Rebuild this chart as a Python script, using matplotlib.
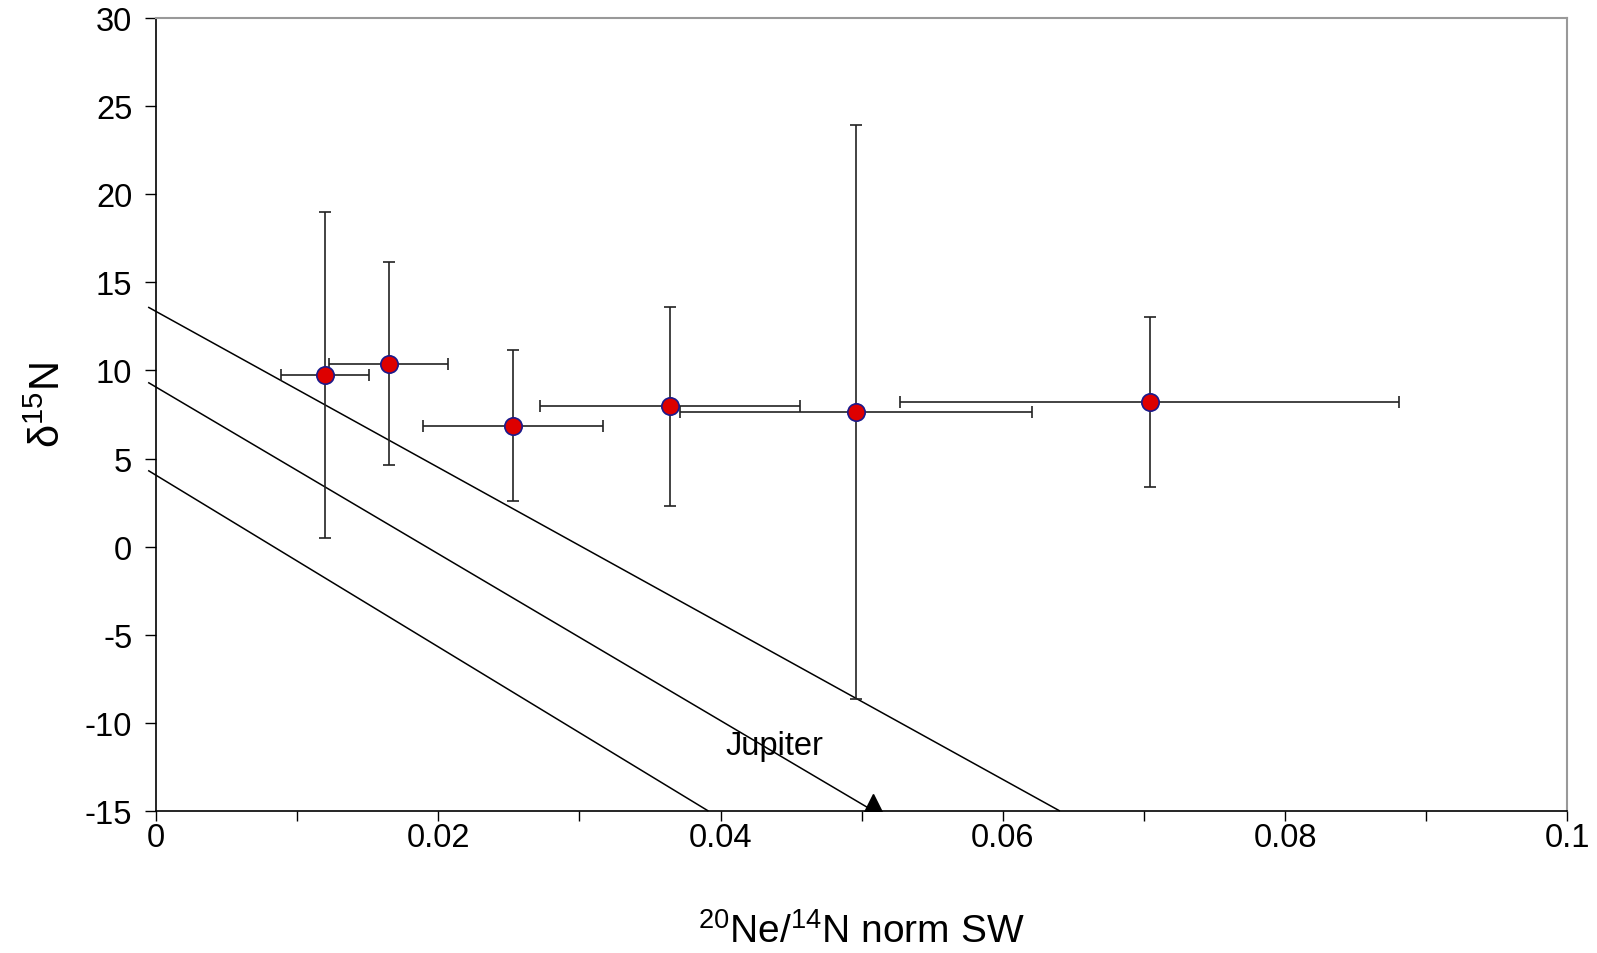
import numpy as np
import matplotlib
matplotlib.use("Agg")
import matplotlib.pyplot as plt

plt.rcParams['font.family'] = ['Liberation Sans', 'DejaVu Sans']
plt.rcParams['mathtext.fontset'] = 'custom'
plt.rcParams['mathtext.rm'] = 'Liberation Sans'
plt.rcParams['axes.unicode_minus'] = False

# measured points with symmetric errors
ne_n = [0.0120, 0.0165, 0.0253, 0.0364, 0.0496, 0.0704]
ne_n_err = [0.0031, 0.0042, 0.0064, 0.0092, 0.0125, 0.0177]
d15n = [9.76, 10.39, 6.86, 7.96, 7.67, 8.19]
d15n_err = [9.25, 5.75, 4.3, 5.65, 16.3, 4.83]

# mixing lines (start, end)
line_x = [[-0.0005, 0.0640], [-0.0005, 0.0508], [-0.0005, 0.0391]]
line_y = [[13.58, -15.0], [9.30, -15.0], [4.30, -15.0]]

# Jupiter
jup_x = 0.0508
jup_y = -15.0

fig = plt.figure(figsize=(15.97, 9.54), dpi=100)
ax = fig.add_axes([0.0976, 0.1492, 0.8839, 0.8305])

for lx, ly in zip(line_x, line_y):
    ax.plot(lx, ly, color='black', lw=1.1, clip_on=False, zorder=2)

ax.errorbar(ne_n, d15n, xerr=ne_n_err, yerr=d15n_err, fmt='none',
            ecolor='#222222', elinewidth=1.2, capsize=4.5, capthick=1.2, zorder=3)
ax.plot(ne_n, d15n, 'o', ms=12.5, mfc='#dd0000', mec='#1a1a8c', mew=1.2, zorder=4)

ax.plot(jup_x, jup_y, '^', ms=24, color='black', clip_on=True, zorder=4)
ax.text(0.0438, -11.3, 'Jupiter', fontsize=23.5, ha='center', va='center')

ax.set_xlim(0, 0.1)
ax.set_ylim(-15, 30)
ax.set_xticks(np.arange(0, 0.1001, 0.02))
ax.set_xticklabels(['0', '0.02', '0.04', '0.06', '0.08', '0.1'])
ax.set_xticks(np.arange(0, 0.1001, 0.01), minor=True)
ax.set_yticks(np.arange(-15, 31, 5))

ax.tick_params(axis='x', which='both', direction='out', length=7, width=1,
               labelsize=23.5, pad=1.5)
ax.tick_params(axis='y', direction='out', length=8, width=1, labelsize=23.5, pad=9)

for s in ['top', 'right']:
    ax.spines[s].set_color('#999999')
    ax.spines[s].set_linewidth(1.5)
for s in ['left', 'bottom']:
    ax.spines[s].set_color('black')
    ax.spines[s].set_linewidth(1.2)

ax.set_xlabel('$^{20}$Ne/$^{14}$N norm SW', fontsize=28, labelpad=42)
ax.set_ylabel('δ$^{15}$N', fontsize=30, labelpad=11)
ax.yaxis.label.set_y(0.513)

fig.savefig('out.png', dpi=100)
